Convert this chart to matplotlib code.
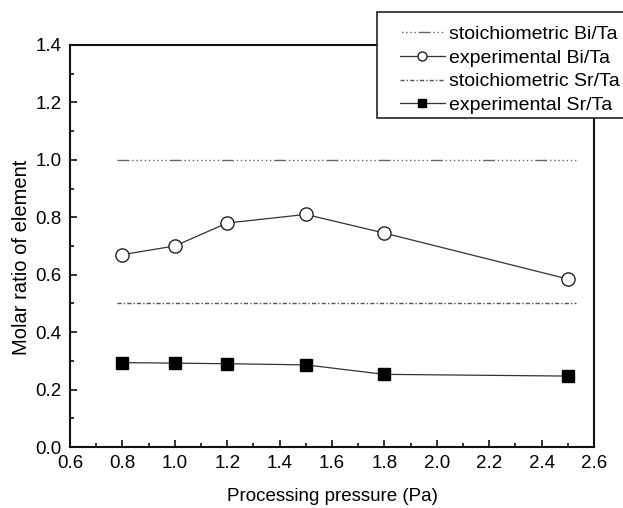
import numpy as np
import matplotlib
matplotlib.use("Agg")
import matplotlib.pyplot as plt
from matplotlib.lines import Line2D
from matplotlib.patches import Rectangle
from matplotlib.ticker import MultipleLocator

plt.rcParams['font.family'] = ['Liberation Sans', 'DejaVu Sans']

# processing pressure (Pa) and measured molar ratios
pressure = [0.8, 1.0, 1.2, 1.5, 1.8, 2.5]
bi_ta_exp = [0.67, 0.70, 0.78, 0.81, 0.745, 0.585]
sr_ta_exp = [0.294, 0.292, 0.290, 0.286, 0.253, 0.247]

# stoichiometric reference levels, drawn over the measured range
stoich_x = [0.78, 2.53]
bi_ta_stoich = 1.0
sr_ta_stoich = 0.5

labels = ['stoichiometric Bi/Ta', 'experimental Bi/Ta',
          'stoichiometric Sr/Ta', 'experimental Sr/Ta']

bi_dash = (8.6, 2) + (1, 2) * 9
sr_dash = (3, 1.5, 1, 1.5)

fig = plt.figure(figsize=(6.23, 5.08), dpi=100)
ax = fig.add_axes([70 / 623, 1 - 447 / 508, 524 / 623, 402 / 508])

ax.plot(stoich_x, [bi_ta_stoich] * 2, color='#666666', lw=1.0,
        dashes=bi_dash)
ax.plot(pressure, bi_ta_exp, color='#333333', lw=0.9, marker='o', ms=9.5,
        mfc='white', mec='#222222', mew=1.0)
ax.plot(stoich_x, [sr_ta_stoich] * 2, color='#555555', lw=1.0,
        dashes=sr_dash)
ax.plot(pressure, sr_ta_exp, color='#333333', lw=0.9, marker='s', ms=8.5,
        mfc='black', mec='black')

ax.set_xlim(0.6, 2.6)
ax.set_ylim(0.0, 1.4)
ax.xaxis.set_major_locator(MultipleLocator(0.2))
ax.xaxis.set_minor_locator(MultipleLocator(0.1))
ax.yaxis.set_major_locator(MultipleLocator(0.2))
ax.yaxis.set_minor_locator(MultipleLocator(0.1))
ax.xaxis.set_major_formatter(plt.FormatStrFormatter('%.1f'))
ax.yaxis.set_major_formatter(plt.FormatStrFormatter('%.1f'))
ax.tick_params(which='both', direction='in', top=False, right=False,
               labelsize=13.5, width=1.2, color='#111111')
ax.tick_params(which='major', length=5, pad=6)
ax.tick_params(which='minor', length=3)
for s in ax.spines.values():
    s.set_linewidth(1.5)
    s.set_color('#111111')

ax.set_xlabel('Processing pressure (Pa)', fontsize=13.5, labelpad=11)
ax.set_ylabel('Molar ratio of element', fontsize=14.5, labelpad=3, y=0.473)

# legend proxies: dash offset puts the long dash in the middle of the sample
handles = [
    Line2D([], [], color='#666666', lw=1.0,
           linestyle=(24.5, bi_dash)),
    Line2D([], [], color='#333333', lw=0.9, marker='o', ms=6.5,
           mfc='white', mec='#222222', mew=1.0),
    Line2D([], [], color='#555555', lw=1.0, linestyle=(0, sr_dash)),
    Line2D([], [], color='#333333', lw=0.9, marker='s', ms=5.5,
           mfc='black', mec='black'),
]

# legend box sits above the top right corner and runs off the figure edge
box = Rectangle((377 / 623, 1 - 118 / 508), 0.5, 106 / 508,
                transform=fig.transFigure, facecolor='white',
                edgecolor='#222222', lw=1.2, zorder=5)
fig.patches.append(box)
leg = fig.legend(handles, labels, loc='upper left',
                 bbox_to_anchor=(400 / 623, 1 - 25.5 / 508),
                 bbox_transform=fig.transFigure, frameon=False, borderpad=0,
                 borderaxespad=0, fontsize=14.0, handlelength=2.3,
                 handletextpad=0.2, labelspacing=0.31, numpoints=1)
leg.set_zorder(6)

fig.savefig('out.png', dpi=100)
